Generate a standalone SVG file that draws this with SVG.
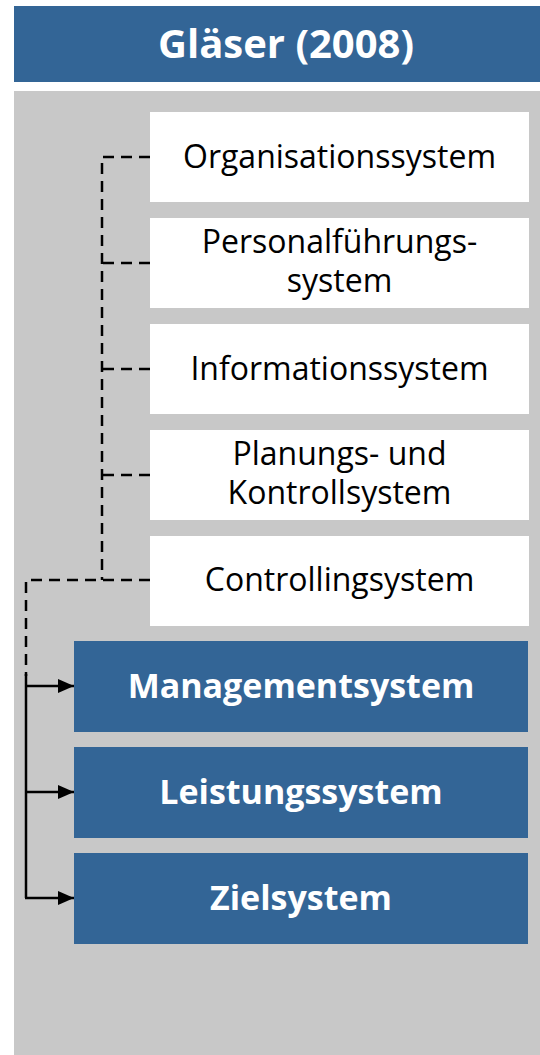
<svg xmlns="http://www.w3.org/2000/svg" width="540" height="1055" viewBox="0 0 540 1055">
<style>
.hdr{fill:#336596}
.panel{fill:#c8c8c8}
.wbox{fill:#ffffff}
.bbox{fill:#336596}
.t{font-family:"Open Sans","Noto Sans",sans-serif;font-size:32px;fill:#000;text-anchor:middle}
.tb{font-family:"Open Sans","Noto Sans",sans-serif;font-size:34px;font-weight:bold;fill:#fff;text-anchor:middle}
.title{font-family:"Open Sans","Noto Sans",sans-serif;font-size:40px;font-weight:bold;fill:#fff;text-anchor:middle}
.dash{fill:none;stroke:#000;stroke-width:2.5;stroke-dasharray:11 7}
.solid{fill:none;stroke:#000;stroke-width:2.5}
</style>
<defs>
<marker id="arr" markerUnits="userSpaceOnUse" markerWidth="16" markerHeight="14" refX="16" refY="7" orient="auto">
<path d="M0,0 L16,7 L0,14 Z" fill="#000"/>
</marker>
</defs>
<g id="header">
<rect class="hdr" x="14" y="6" width="526" height="76"/>
<text class="title" x="286" y="58">Gläser (2008)</text>
</g>
<rect class="panel" x="14" y="91" width="526" height="964"/>
<g id="connectors">
<path class="dash" d="M150,157 H102 V580"/>
<path class="dash" d="M150,263 H102"/>
<path class="dash" d="M150,369 H102"/>
<path class="dash" d="M150,475 H102"/>
<path class="dash" d="M150,580 H26 V676"/>
<path class="solid" d="M26,674 V898"/>
<path class="solid" d="M26,686 H74" marker-end="url(#arr)"/>
<path class="solid" d="M26,792 H74" marker-end="url(#arr)"/>
<path class="solid" d="M25,898 H74" marker-end="url(#arr)"/>
</g>
<g id="organisationssystem">
<rect class="wbox" x="150" y="112" width="379" height="90"/>
<text class="t" x="339.5" y="168">Organisationssystem</text>
</g>
<g id="personalfuehrungssystem">
<rect class="wbox" x="150" y="218" width="379" height="90"/>
<text class="t" x="339.5" y="253">Personalführungs-</text>
<text class="t" x="339.5" y="292">system</text>
</g>
<g id="informationssystem">
<rect class="wbox" x="150" y="324" width="379" height="90"/>
<text class="t" x="339.5" y="380">Informationssystem</text>
</g>
<g id="planungssystem">
<rect class="wbox" x="150" y="430" width="379" height="90"/>
<text class="t" x="339.5" y="465">Planungs- und</text>
<text class="t" x="339.5" y="504">Kontrollsystem</text>
</g>
<g id="controllingsystem">
<rect class="wbox" x="150" y="536" width="379" height="90"/>
<text class="t" x="339.5" y="591">Controllingsystem</text>
</g>
<g id="managementsystem">
<rect class="bbox" x="74" y="641" width="454" height="91"/>
<text class="tb" x="301" y="698">Managementsystem</text>
</g>
<g id="leistungssystem">
<rect class="bbox" x="74" y="747" width="454" height="91"/>
<text class="tb" x="301" y="804">Leistungssystem</text>
</g>
<g id="zielsystem">
<rect class="bbox" x="74" y="853" width="454" height="91"/>
<text class="tb" x="301" y="910">Zielsystem</text>
</g>
</svg>
